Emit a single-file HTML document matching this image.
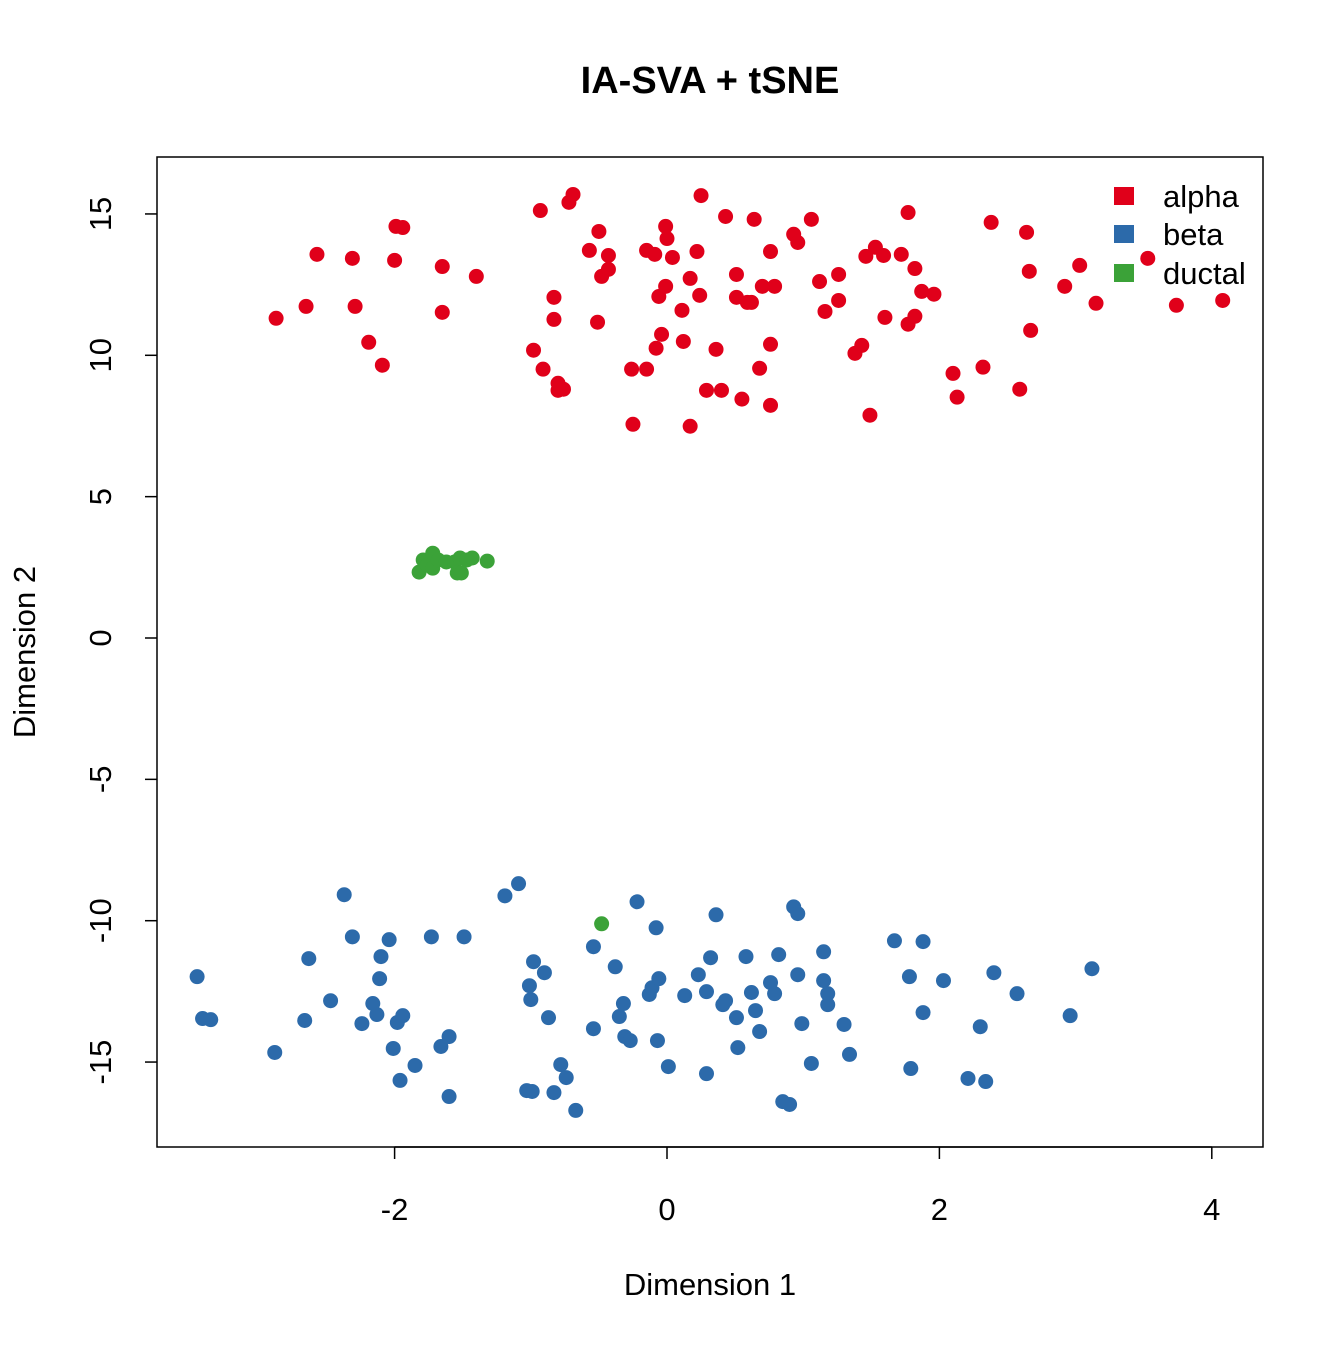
<!DOCTYPE html>
<html><head><meta charset="utf-8"><style>
body{margin:0;background:#fff}
svg text{font-family:"Liberation Sans",Arial,sans-serif;fill:#000}
</style></head><body>
<svg id="chart" width="1344" height="1344" xmlns="http://www.w3.org/2000/svg">
<rect width="1344" height="1344" fill="#fff"/>
<text x="710" y="93" font-size="38" font-weight="bold" text-anchor="middle">IA-SVA + tSNE</text>
<rect x="157" y="157" width="1106" height="990" fill="none" stroke="#000" stroke-width="1.5"/>
<text x="710" y="1295" font-size="31" text-anchor="middle">Dimension 1</text>
<text transform="translate(35,652) rotate(-90)" font-size="31" text-anchor="middle">Dimension 2</text>
<g id="xaxis"></g>
<g id="yaxis"></g>
<g id="points"></g>
<g>
<rect x="1114" y="187" width="20" height="18" fill="#E0001A"/>
<text x="1163" y="207" font-size="31">alpha</text>
<rect x="1114" y="225" width="20" height="18" fill="#2C6AAA"/>
<text x="1163" y="245" font-size="31">beta</text>
<rect x="1114" y="264" width="20" height="18" fill="#3BA238"/>
<text x="1163" y="284" font-size="31">ductal</text>
</g>
</svg>
<script>
const xTicks=[-2,0,2,4];
const yTicks=[-15,-10,-5,0,5,10,15];
const alphaX=[-2.87,-2.65,-2.57,-2.31,-2.29,-2.19,-2.09,-2.00,-1.99,-1.94,-1.65,-1.65,-1.40,-0.93,-0.98,-0.91,-0.83,-0.83,-0.80,-0.80,-0.76,-0.72,-0.69,-0.57,-0.50,-0.48,-0.43,-0.43,-0.51,-0.26,-0.25,-0.15,-0.15,-0.09,-0.06,-0.01,-0.01,0,-0.04,-0.08,0.04,0.11,0.12,0.17,0.22,0.24,0.25,0.29,0.36,0.40,0.43,0.51,0.51,0.55,0.59,0.62,0.64,0.68,0.70,0.76,0.76,0.79,0.76,0.17,0.93,0.96,1.06,1.12,1.16,1.26,1.26,1.38,1.43,1.46,1.49,1.53,1.59,1.60,1.72,1.77,1.77,1.82,1.82,1.87,1.96,2.10,2.13,2.32,2.38,2.59,2.64,2.66,2.67,2.92,3.03,3.15,3.53,3.74,4.08];
const alphaY=[11.31,11.73,13.57,13.43,11.73,10.46,9.65,13.36,14.56,14.52,13.14,11.52,12.79,15.12,10.18,9.51,12.05,11.27,9.01,8.76,8.80,15.41,15.69,13.71,14.38,12.79,13.53,13.04,11.17,9.51,7.56,13.71,9.51,13.57,12.08,12.44,14.56,14.13,10.74,10.25,13.46,11.59,10.49,12.72,13.67,12.12,15.65,8.76,10.21,8.76,14.91,12.86,12.05,8.45,11.87,11.87,14.81,9.54,12.44,13.67,10.39,12.44,8.23,7.49,14.28,13.99,14.81,12.61,11.55,12.86,11.94,10.07,10.35,13.50,7.88,13.82,13.53,11.34,13.57,15.05,11.10,13.07,11.38,12.26,12.16,9.36,8.52,9.58,14.70,8.80,14.35,12.97,10.88,12.44,13.18,11.84,13.43,11.77,11.94];
const betaX=[-3.45,-3.41,-3.35,-2.88,-2.66,-2.63,-2.47,-2.37,-2.31,-2.24,-2.16,-2.13,-2.11,-2.10,-2.04,-2.01,-1.98,-1.96,-1.94,-1.85,-1.73,-1.66,-1.60,-1.60,-1.49,-1.19,-1.09,-1.03,-0.99,-1.00,-1.01,-0.98,-0.90,-0.87,-0.83,-0.78,-0.74,-0.67,-0.54,-0.54,-0.38,-0.35,-0.32,-0.31,-0.27,-0.22,-0.13,-0.11,-0.08,-0.07,-0.06,0.01,0.13,0.23,0.29,0.29,0.32,0.36,0.41,0.43,0.51,0.52,0.58,0.62,0.65,0.68,0.76,0.79,0.82,0.85,0.90,0.93,0.96,0.96,0.99,1.06,1.15,1.15,1.18,1.18,1.30,1.34,1.67,1.78,1.79,1.88,1.88,2.03,2.21,2.30,2.34,2.40,2.57,2.96,3.12];
const betaY=[-11.98,-13.46,-13.50,-14.66,-13.53,-11.34,-12.83,-9.08,-10.57,-13.64,-12.93,-13.32,-12.05,-11.27,-10.67,-14.52,-13.60,-15.65,-13.36,-15.12,-10.57,-14.45,-16.22,-14.10,-10.57,-9.12,-8.69,-16.01,-16.04,-12.79,-12.30,-11.45,-11.84,-13.43,-16.08,-15.09,-15.55,-16.71,-10.92,-13.82,-11.63,-13.39,-12.93,-14.10,-14.24,-9.33,-12.61,-12.37,-10.25,-14.24,-12.05,-15.16,-12.65,-11.91,-12.51,-15.41,-11.31,-9.79,-12.97,-12.83,-13.43,-14.49,-11.27,-12.54,-13.18,-13.92,-12.19,-12.58,-11.20,-16.40,-16.50,-9.51,-9.75,-11.91,-13.64,-15.05,-12.12,-11.10,-12.58,-12.97,-13.67,-14.73,-10.71,-11.98,-15.23,-10.74,-13.25,-12.12,-15.58,-13.75,-15.69,-11.84,-12.58,-13.36,-11.70];
const ductalX=[-1.82,-1.79,-1.76,-1.72,-1.72,-1.68,-1.62,-1.56,-1.54,-1.51,-1.52,-1.47,-1.43,-1.32,-0.48];
const ductalY=[2.33,2.76,2.58,3.00,2.47,2.76,2.69,2.69,2.30,2.30,2.83,2.76,2.83,2.72,-10.11];
const NS='http://www.w3.org/2000/svg';
function sx(v){return 667+v*136.2;}
function sy(v){return 638-v*28.27;}
const xa=document.getElementById('xaxis'),ya=document.getElementById('yaxis'),pts=document.getElementById('points');
for(const t of xTicks){
  const l=document.createElementNS(NS,'line');
  l.setAttribute('x1',sx(t));l.setAttribute('x2',sx(t));l.setAttribute('y1',1147);l.setAttribute('y2',1159);
  l.setAttribute('stroke','#000');l.setAttribute('stroke-width','1.5');
  
  
  xa.appendChild(l);
  const tx=document.createElementNS(NS,'text');
  tx.setAttribute('x',sx(t));tx.setAttribute('y',1220);tx.setAttribute('font-size','31');tx.setAttribute('text-anchor','middle');
  tx.textContent=t;
  
  
  xa.appendChild(tx);
}
const xl=document.createElementNS(NS,'line');
xl.setAttribute('x1',sx(-2));xl.setAttribute('x2',sx(4));xl.setAttribute('y1',1147);xl.setAttribute('y2',1147);xl.setAttribute('stroke','#000');xl.setAttribute('stroke-width','1.5');
xa.appendChild(xl);
for(const t of yTicks){
  const l=document.createElementNS(NS,'line');
  l.setAttribute('x1',145);l.setAttribute('x2',157);l.setAttribute('y1',sy(t));l.setAttribute('y2',sy(t));
  l.setAttribute('stroke','#000');l.setAttribute('stroke-width','1.5');
  
  
  ya.appendChild(l);
  const tx=document.createElementNS(NS,'text');
  tx.setAttribute('transform','translate(111,'+sy(t)+') rotate(-90)');tx.setAttribute('font-size','31');tx.setAttribute('text-anchor','middle');
  tx.textContent=t;
  
  
  ya.appendChild(tx);
}
function drawSeries(X,Y,color,name){
  for(let i=0;i<X.length;i++){
    const c=document.createElementNS(NS,'circle');
    c.setAttribute('cx',sx(X[i]));c.setAttribute('cy',sy(Y[i]));c.setAttribute('r',7.5);c.setAttribute('fill',color);
    
    
    pts.appendChild(c);
  }
}
drawSeries(alphaX,alphaY,'#E0001A','alpha');
drawSeries(betaX,betaY,'#2C6AAA','beta');
drawSeries(ductalX,ductalY,'#3BA238','ductal');
</script>
</body></html>
